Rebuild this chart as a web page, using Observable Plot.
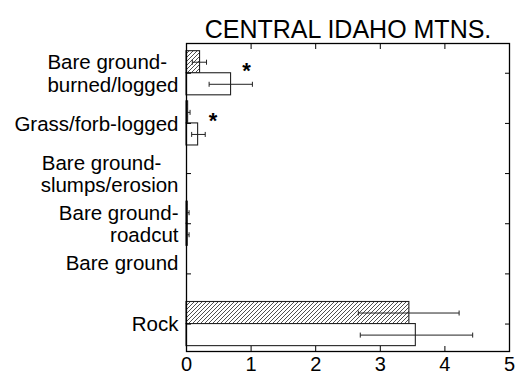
<!DOCTYPE html>
<html>
<head>
<meta charset="utf-8">
<script src="https://cdn.jsdelivr.net/npm/d3@7"></script>
<script src="https://cdn.jsdelivr.net/npm/@observablehq/plot@0.6"></script>
<style>
  html, body { margin: 0; padding: 0; background: #fff; }
  svg { font-family: "Liberation Sans", Arial, sans-serif; }
</style>
</head>
<body>
<div id="chart"></div>
<script>
const title = "CENTRAL IDAHO MTNS.";
const categories = ["Bare ground-\u00a0\u00a0\nburned/logged", "Grass/forb-logged", "Bare ground-\u00a0\u00a0\u00a0\nslumps/erosion", "Bare ground-\nroadcut", "Bare ground\n", "Rock"];
const hatchedMean = [0.21, 0.025, 0, 0.02, 0, 3.45];
const hatchedLo   = [0.09, 0.0,   0, 0.0,  0, 2.66];
const hatchedHi   = [0.31, 0.055, 0, 0.04, 0, 4.22];
const openMean    = [0.69, 0.18, 0, 0.02, 0, 3.55];
const openLo      = [0.35, 0.08, 0, 0.0,  0, 2.69];
const openHi      = [1.02, 0.29, 0, 0.04, 0, 4.43];
const starCats    = [0, 1];
const starX       = [0.93, 0.41];
const xTicks      = [0, 1, 2, 3, 4, 5];

const half = 0.44;   // bar thickness in category units
const cap = 0.05;
const rows = [];
categories.forEach((c, i) => {
  rows.push({i, s: "h", mean: hatchedMean[i], lo: hatchedLo[i], hi: hatchedHi[i], y1: i - half, y2: i});
  rows.push({i, s: "o", mean: openMean[i], lo: openLo[i], hi: openHi[i], y1: i, y2: i + half});
});
const bars = rows.filter(d => d.mean > 0);
const errs = rows.filter(d => d.hi > 0).map(d => ({...d, yc: (d.y1 + d.y2) / 2}));
const stars = starCats.map((c, k) => ({x: starX[k], y: c - 0.12}));
const idx = categories.map((_, i) => i);

const font = "Liberation Sans, Arial, sans-serif";
const plot = Plot.plot({
  width: 525,
  height: 379,
  marginLeft: 186,
  marginRight: 16,
  marginTop: 43,
  marginBottom: 28,
  style: {fontFamily: font, background: "#fff", color: "#000"},
  x: {domain: [0, 5]},
  y: {domain: [-0.593, 5.547], reverse: true},
  marks: [
    Plot.rectX(bars, {x1: 0, x2: "mean", y1: "y1", y2: "y2",
      fill: d => d.s === "h" ? "url(#hatch)" : "white", stroke: "#222", strokeWidth: 1.1}),
    Plot.link(errs, {x1: "lo", x2: "hi", y1: "yc", y2: "yc", stroke: "#222", strokeWidth: 1}),
    Plot.link(errs, {x1: "lo", x2: "lo", y1: d => d.yc - cap, y2: d => d.yc + cap, stroke: "#222", strokeWidth: 1}),
    Plot.link(errs, {x1: "hi", x2: "hi", y1: d => d.yc - cap, y2: d => d.yc + cap, stroke: "#222", strokeWidth: 1}),
    Plot.text(stars, {x: "x", y: "y", text: () => "*", fontSize: 22, fontWeight: "bold", dy: 4, fill: "#000"}),
    Plot.frame({stroke: "#000", strokeWidth: 1.3}),
    Plot.axisX(xTicks, {anchor: "bottom", tickSize: 0, tickPadding: 5, fontSize: 20, tickFormat: d => String(d), label: null}),
    Plot.axisX(xTicks, {anchor: "bottom", tickSize: -5, tickFormat: () => "", label: null}),
    Plot.axisX(xTicks, {anchor: "top", tickSize: -5, tickFormat: () => "", label: null}),
    Plot.axisY(idx, {anchor: "left", tickSize: 0, tickPadding: 8, fontSize: 20.5, lineHeight: 1.1, tickFormat: i => categories[i], label: null}),
    Plot.axisY(idx, {anchor: "left", tickSize: -5, tickFormat: () => "", label: null}),
    Plot.axisY(idx, {anchor: "right", tickSize: -5, tickFormat: () => "", label: null}),
    Plot.text([title], {frameAnchor: "top", dy: -23, fontSize: 25, fill: "#000"})
  ]
});

const defs = d3.select(plot).insert("defs", ":first-child");
const pat = defs.append("pattern").attr("id", "hatch").attr("patternUnits", "userSpaceOnUse")
  .attr("width", 4).attr("height", 4);
pat.append("rect").attr("width", 4).attr("height", 4).attr("fill", "white");
pat.append("path").attr("d", "M-1,1 l2,-2 M0,4 l4,-4 M3,5 l2,-2").attr("stroke", "#222").attr("stroke-width", 0.8);

document.getElementById("chart").appendChild(plot);
</script>
</body>
</html>
